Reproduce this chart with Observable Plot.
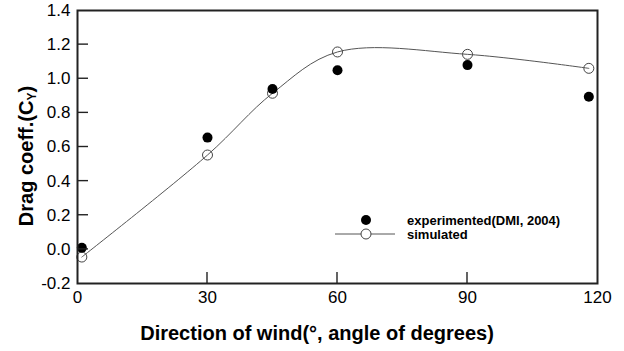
<!DOCTYPE html>
<html>
<head>
<meta charset="utf-8">
<script src="https://cdn.jsdelivr.net/npm/d3@7"></script>
<script src="https://cdn.jsdelivr.net/npm/@observablehq/plot@0.6"></script>
<style>
  html, body { margin: 0; padding: 0; background: #fff; }
  #chart { position: relative; width: 624px; height: 351px; }
  #chart g[aria-label$="tick label"] text { font-size: 17px !important; }
</style>
</head>
<body>
<div id="chart"></div>
<script>
// ---- data ----
const expAngle = [1, 30, 45, 60, 90, 118];
const expCoeff = [0.01, 0.655, 0.94, 1.05, 1.08, 0.895];
const simAngle = [1, 30, 45, 60, 90, 118];
const simCoeff = [-0.045, 0.553, 0.915, 1.157, 1.143, 1.061];
const xTicks = [0, 30, 60, 90, 120];
const yTicks = [-0.2, 0.0, 0.2, 0.4, 0.6, 0.8, 1.0, 1.2, 1.4];
const seriesNames = ["experimented(DMI, 2004)", "simulated"];
const xTitle = "Direction of wind(°, angle of degrees)";

const experimented = expAngle.map((a, i) => ({angle: a, cd: expCoeff[i]}));
const simulated = simAngle.map((a, i) => ({angle: a, cd: simCoeff[i]}));

const font = "'Liberation Sans', Arial, sans-serif";
const ML = 77, MR = 27, MT = 10, MB = 68, W = 624, H = 351;

const plot = Plot.plot({
  width: W,
  height: H,
  marginLeft: ML,
  marginRight: MR,
  marginTop: MT,
  marginBottom: MB,
  style: {fontFamily: font, fontSize: "17px", color: "#000", background: "#fff"},
  x: {domain: [0, 120]},
  y: {domain: [-0.2, 1.4]},
  marks: [
    Plot.axisX({ticks: xTicks, tickSize: 0, tickPadding: 7, tickFormat: d => String(d), label: null, fontSize: 17}),
    Plot.axisY({ticks: yTicks, tickSize: 0, tickPadding: 7, tickFormat: d => d.toFixed(1), label: null, fontSize: 17}),
    Plot.line(simulated, {x: "angle", y: "cd", curve: "catmull-rom", stroke: "#555", strokeWidth: 1}),
    Plot.dot(simulated, {x: "angle", y: "cd", r: 5, fill: "none", stroke: "#444", strokeWidth: 1}),
    Plot.dot(experimented, {x: "angle", y: "cd", r: 5, fill: "#000", stroke: "none"}),
    Plot.frame({stroke: "#222", strokeWidth: 2})
  ]
});

document.getElementById("chart").appendChild(plot);

const svg = d3.select(plot);
svg.selectAll("g[aria-label$='tick label'] text").style("font-size", "17px");
const sx = plot.scale("x"), sy = plot.scale("y");

// inward tick marks, positioned by the plot's scales
const tg = svg.append("g").attr("stroke", "#222").attr("stroke-width", 1.4);
xTicks.slice(1, -1).forEach(v => {
  const px = sx.apply(v);
  tg.append("line").attr("x1", px).attr("x2", px).attr("y1", H - MB).attr("y2", H - MB - 11);
});
yTicks.slice(1, -1).forEach(v => {
  const py = sy.apply(v);
  tg.append("line").attr("x1", ML).attr("x2", ML + 11).attr("y1", py).attr("y2", py);
});

// y-axis title with subscript
const yt = svg.append("text")
  .attr("transform", "translate(33,156) rotate(-90)")
  .attr("text-anchor", "middle")
  .attr("font-family", font)
  .attr("font-weight", "bold")
  .attr("font-size", 20)
  .attr("fill", "#000");
yt.append("tspan").text("Drag coeff.(C");
yt.append("tspan").attr("font-size", 12).attr("dy", 3).text("Y");
yt.append("tspan").attr("dy", -3).text(")");

// x-axis title
svg.append("text")
  .attr("x", 317)
  .attr("y", 340)
  .attr("text-anchor", "middle")
  .attr("font-family", font)
  .attr("font-weight", "bold")
  .attr("font-size", 20)
  .attr("fill", "#000")
  .text(xTitle);

// legend
const lg = svg.append("g").attr("font-family", font).attr("font-weight", "bold").attr("font-size", 13).attr("text-anchor", "start");
lg.append("circle").attr("cx", 366).attr("cy", 220).attr("r", 5).attr("fill", "#000");
lg.append("text").attr("x", 407).attr("y", 220).attr("dy", "0.35em").text(seriesNames[0]);
lg.append("line").attr("x1", 335).attr("x2", 395).attr("y1", 234).attr("y2", 234).attr("stroke", "#555");
lg.append("circle").attr("cx", 366).attr("cy", 234).attr("r", 5).attr("fill", "#fff").attr("stroke", "#444");
lg.append("text").attr("x", 407).attr("y", 234).attr("dy", "0.35em").text(seriesNames[1]);
</script>
</body>
</html>
